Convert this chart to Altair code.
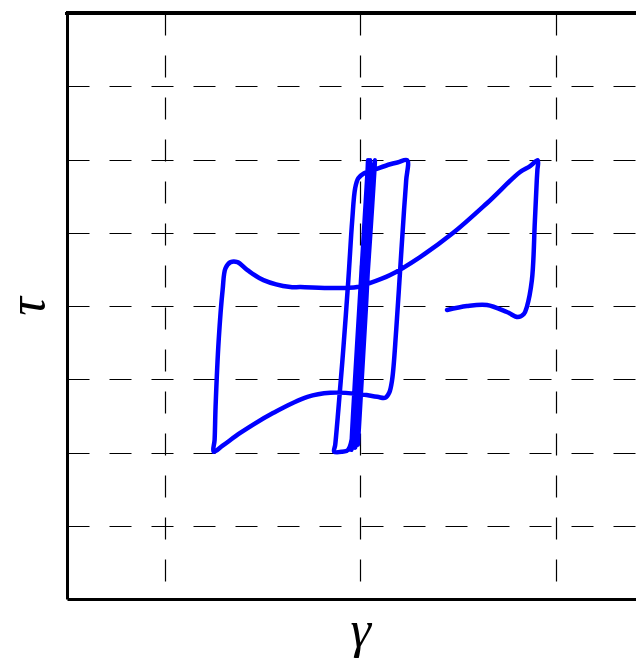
import altair as alt
import pandas as pd

# strain (gamma) and stress (tau), in path order
gamma = [0.444, 0.546, 0.648, 0.750, 0.806, 0.837, 0.852, 0.878, 0.893, 0.903, 0.906, 0.908,
         0.867, 0.816, 0.648, 0.474, 0.306, 0.153, 0.036, -0.015, -0.138, -0.306, -0.357,
         -0.495, -0.577, -0.628, -0.663, -0.689, -0.704, -0.724, -0.740, -0.745, -0.750,
         -0.704, -0.612, -0.444, -0.270, -0.153, -0.015, 0.087, 0.128, 0.148, 0.163, 0.184,
         0.204, 0.224, 0.235, 0.240,
         0.194, 0.153, 0.077, 0.020, -0.010, -0.026, -0.041, -0.061, -0.087, -0.112, -0.128, -0.133,
         -0.092, -0.061, 0.040, -0.045, 0.075, -0.026, 0.050, -0.012, 0.066, -0.036]
tau = [-0.054, 0.000, 0.014, -0.082, -0.150, -0.109, -0.014, 0.354, 1.144, 1.717, 1.853, 1.989,
       1.907, 1.826, 1.403, 0.995, 0.668, 0.422, 0.300, 0.259, 0.245, 0.259, 0.259,
       0.354, 0.490, 0.599, 0.599, 0.518, 0.218, -0.463, -1.376, -1.826, -1.989,
       -1.907, -1.730, -1.458, -1.240, -1.185, -1.199, -1.240, -1.253, -1.185, -1.008, -0.327,
       0.490, 1.308, 1.717, 1.989,
       1.962, 1.935, 1.866, 1.812, 1.744, 1.608, 1.172, 0.354, -0.599, -1.417, -1.894, -1.989,
       -1.989, -1.962, 1.989, -1.962, 1.989, -1.935, 1.989, -1.894, 1.921, -1.826]

x_ticks = [-1, 0, 1]
y_ticks = [-3, -2, -1, 0, 1, 2, 3]
x_domain = [-1.5, 1.4105]
y_domain = [-4, 4]

df = pd.DataFrame({"gamma": gamma, "tau": tau, "i": list(range(len(gamma)))})

FONT = "Liberation Serif"
W, H = 569, 586

line = alt.Chart(df).mark_line(
    color="#0000ff", strokeWidth=4.5, strokeCap="round", strokeJoin="round",
    interpolate="catmull-rom", clip=True
).encode(
    x=alt.X("gamma:Q", scale=alt.Scale(domain=x_domain, nice=False, zero=False),
            axis=alt.Axis(values=x_ticks, labels=False, ticks=False, grid=True,
                          gridColor="black", gridDash=[22, 20], gridWidth=1.2,
                          domainColor="black", domainWidth=3,
                          title="γ", titleFont=FONT, titleFontStyle="italic",
                          titleFontSize=52, titleFontWeight="normal", titleColor="black",
                          titleBaseline="alphabetic", titleY=47,
                          titleX=W * (0 - x_domain[0]) / (x_domain[1] - x_domain[0]))),
    y=alt.Y("tau:Q", scale=alt.Scale(domain=y_domain, nice=False, zero=False),
            axis=alt.Axis(values=y_ticks, labels=False, ticks=False, grid=True,
                          gridColor="black", gridDash=[22, 20], gridWidth=1.2,
                          domainColor="black", domainWidth=3,
                          title="τ", titleFont=FONT, titleFontStyle="italic",
                          titleFontSize=52, titleFontWeight="normal", titleColor="black",
                          titleAngle=270, titleBaseline="alphabetic", titleAlign="center",
                          titleX=-24, titleY=H / 2)),
    order="i:Q",
)

top = alt.Chart(df).mark_rule(color="black", strokeWidth=3, strokeCap="round").encode(
    y=alt.datum(y_domain[1])
)

chart = alt.layer(line, top).properties(
    width=W, height=H,
    autosize=alt.AutoSizeParams(type="none"),
    padding={"left": 59, "top": 5, "right": 0, "bottom": 62},
).configure_view(stroke=None)

chart.save("out.html", embed_options={"renderer": "svg", "actions": False})
